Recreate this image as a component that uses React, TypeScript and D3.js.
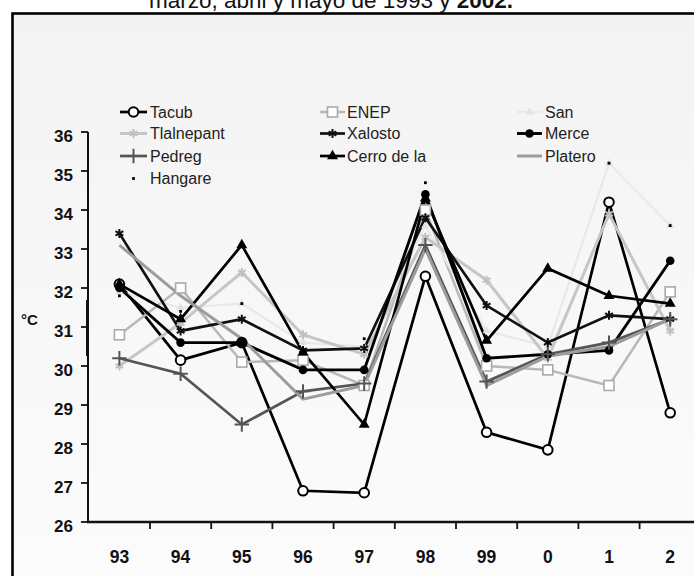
import React from "react";
import * as d3 from "d3";

// Years on the horizontal axis
const categories = ["93", "94", "95", "96", "97", "98", "99", "0", "1", "2"];
const yTicks = [26, 27, 28, 29, 30, 31, 32, 33, 34, 35, 36];

// Maximum temperatures (°C) per station
const tacub = [32.1, 30.15, 30.6, 26.8, 26.75, 32.3, 28.3, 27.85, 34.2, 28.8];
const enep = [30.8, 32.0, 30.1, 30.15, 29.5, 34.0, 30.0, 29.9, 29.5, 31.9];
const san = [31.9, 31.5, 31.6, 30.6, 30.5, 33.6, 30.9, 30.5, 35.2, 33.6];
const tlalnepant = [30.0, 31.1, 32.4, 30.8, 30.3, 33.3, 32.2, 30.2, 33.9, 30.9];
const xalosto = [33.4, 30.9, 31.2, 30.4, 30.45, 33.8, 31.55, 30.6, 31.3, 31.2];
const merce = [32.0, 30.6, 30.6, 29.9, 29.9, 34.4, 30.2, 30.3, 30.4, 32.7];
const pedreg = [30.2, 29.8, 28.5, 29.35, 29.55, 33.1, 29.6, 30.3, 30.6, 31.2];
const cerro = [32.1, 31.2, 33.1, 30.35, 28.5, 34.3, 30.65, 32.5, 31.8, 31.6];
const platero = [33.1, 31.8, 30.7, 29.15, 29.5, 33.0, 29.5, 30.25, 30.5, 31.2];
const hangare = [31.8, 31.4, 31.6, 30.4, 30.7, 34.7, 30.7, 30.6, 35.2, 33.6];

type Marker = "openCircle" | "openSquare" | "triangleLight" | "asterisk" | "circle" | "plus" | "triangle" | "none" | "dot";

interface Series {
  name: string;
  values: number[];
  color: string;
  width: number;
  line: boolean;
  marker: Marker;
  markerColor: string;
}

const series: Series[] = [
  { name: "Tacub", values: tacub, color: "#000", width: 2.7, line: true, marker: "openCircle", markerColor: "#000" },
  { name: "ENEP", values: enep, color: "#b8b8b8", width: 2.5, line: true, marker: "openSquare", markerColor: "#aaa" },
  { name: "San", values: san, color: "#e9e9e9", width: 2.2, line: true, marker: "triangleLight", markerColor: "#e2e2e2" },
  { name: "Tlalnepant", values: tlalnepant, color: "#c6c6c6", width: 3, line: true, marker: "asterisk", markerColor: "#c0c0c0" },
  { name: "Xalosto", values: xalosto, color: "#111", width: 2.7, line: true, marker: "asterisk", markerColor: "#111" },
  { name: "Merce", values: merce, color: "#000", width: 2.9, line: true, marker: "circle", markerColor: "#000" },
  { name: "Pedreg", values: pedreg, color: "#555", width: 2.7, line: true, marker: "plus", markerColor: "#555" },
  { name: "Cerro de la", values: cerro, color: "#000", width: 2.7, line: true, marker: "triangle", markerColor: "#000" },
  { name: "Platero", values: platero, color: "#9c9c9c", width: 3, line: true, marker: "none", markerColor: "#9c9c9c" },
  { name: "Hangare", values: hangare, color: "#000", width: 0, line: false, marker: "dot", markerColor: "#000" },
];

const W = 694;
const H = 576;
const FONT = "Arial, 'Liberation Sans', Helvetica, sans-serif";

const x = d3.scaleBand<string>().domain(categories).range([88.8, 700.8]);
const cx = (c: string) => (x(c) as number) + x.bandwidth() / 2;
const y = d3.scaleLinear().domain([26, 36]).range([522, 132]);

function MarkerShape({ type, px, py, color }: { type: Marker; px: number; py: number; color: string }) {
  switch (type) {
    case "openCircle":
      return <circle cx={px} cy={py} r={4.8} fill="#fff" stroke={color} strokeWidth={2} />;
    case "openSquare":
      return <rect x={px - 5} y={py - 5} width={10} height={10} fill="#fff" stroke={color} strokeWidth={1.6} />;
    case "triangleLight":
      return <path d={d3.symbol(d3.symbolTriangle, 30)() as string} transform={`translate(${px},${py})`} fill={color} />;
    case "asterisk":
      return (
        <path
          d={d3.symbol(d3.symbolAsterisk, 56)() as string}
          transform={`translate(${px},${py})`}
          fill="none"
          stroke={color}
          strokeWidth={2}
        />
      );
    case "circle":
      return <circle cx={px} cy={py} r={4.3} fill={color} />;
    case "plus":
      return (
        <path
          d={d3.symbol(d3.symbolPlus, 70)() as string}
          transform={`translate(${px},${py})`}
          fill="none"
          stroke={color}
          strokeWidth={2}
        />
      );
    case "triangle":
      return <path d={d3.symbol(d3.symbolTriangle, 52)() as string} transform={`translate(${px},${py})`} fill={color} />;
    case "dot":
      return <rect x={px - 1.4} y={py - 1.4} width={2.8} height={2.8} fill={color} />;
    default:
      return null;
  }
}

const legendCols = [
  { x0: 120, x1: 147, tx: 150 },
  { x0: 320, x1: 345, tx: 347 },
  { x0: 517, x1: 542, tx: 545 },
];
const legendRows = [112, 133.5, 156, 178.5];

export default function App() {
  const lineGen = d3
    .line<number>()
    .x((_, i) => cx(categories[i]))
    .y((v) => y(v));

  return (
    <svg
      width={W}
      height={H}
      viewBox={`0 0 ${W} ${H}`}
      style={{ position: "absolute", left: 0, top: 0, background: "#fff" }}
      fontFamily={FONT}
    >
      <defs>
        <linearGradient id="panelFill" x1="0" y1="0" x2="0" y2="1">
          <stop offset="0" stopColor="#f3f3f3" />
          <stop offset="1" stopColor="#fcfcfc" />
        </linearGradient>
      </defs>

      {/* title line, partly above the page */}
      <text x={331} y={8} textAnchor="middle" fontSize={22.5} fill="#111">
        marzo, abril y mayo de 1993 y <tspan fontWeight="bold">2002.</tspan>
      </text>

      {/* frame */}
      <rect x={12.5} y={13.5} width={720} height={600} fill="url(#panelFill)" stroke="#000" strokeWidth={2.6} />

      {/* y axis */}
      <line x1={88} x2={88} y1={y(36)} y2={y(26)} stroke="#111" strokeWidth={2} />
      <line x1={87.5} x2={87.5} y1={300} y2={356} stroke="#111" strokeWidth={3} />
      {yTicks.map((t) => (
        <g key={`yt${t}`}>
          <line x1={81} x2={88} y1={y(t)} y2={y(t)} stroke="#111" strokeWidth={1.8} />
          <text x={73} y={y(t) + 10} textAnchor="end" fontSize={17} fontWeight="bold" fill="#111">
            {t}
          </text>
        </g>
      ))}
      <text x={21} y={325} fontSize={15} fontWeight="bold" fill="#111">
        °C
      </text>

      {/* x axis */}
      <line x1={87} x2={W + 10} y1={y(26)} y2={y(26)} stroke="#111" strokeWidth={2.4} />
      {categories.slice(1).map((c) => (
        <line key={`xt${c}`} x1={x(c) as number} x2={x(c) as number} y1={y(26)} y2={y(26) + 7} stroke="#111" strokeWidth={1.8} />
      ))}
      {categories.map((c) => (
        <text key={`xl${c}`} x={cx(c)} y={563} textAnchor="middle" fontSize={17.5} fontWeight="bold" fill="#111">
          {c}
        </text>
      ))}

      {/* series lines */}
      {series.map((s) =>
        s.line ? (
          <path
            key={`l${s.name}`}
            d={lineGen(s.values) as string}
            fill="none"
            stroke={s.color}
            strokeWidth={s.width}
            strokeLinejoin="miter"
          />
        ) : null
      )}
      {/* series markers */}
      {series.map((s) => (
        <g key={`m${s.name}`}>
          {s.values.map((v, i) => (
            <MarkerShape key={i} type={s.marker} px={cx(categories[i])} py={y(v)} color={s.markerColor} />
          ))}
        </g>
      ))}

      {/* legend */}
      {series.map((s, i) => {
        const col = legendCols[i % 3];
        const ry = legendRows[Math.floor(i / 3)];
        const mx = (col.x0 + col.x1) / 2;
        return (
          <g key={`lg${s.name}`}>
            {s.line && <line x1={col.x0} x2={col.x1} y1={ry} y2={ry} stroke={s.color} strokeWidth={s.width} />}
            <MarkerShape type={s.marker} px={mx} py={ry} color={s.markerColor} />
            <text x={col.tx} y={ry + 5.5} fontSize={16} fill="#222">
              {s.name}
            </text>
          </g>
        );
      })}
    </svg>
  );
}
